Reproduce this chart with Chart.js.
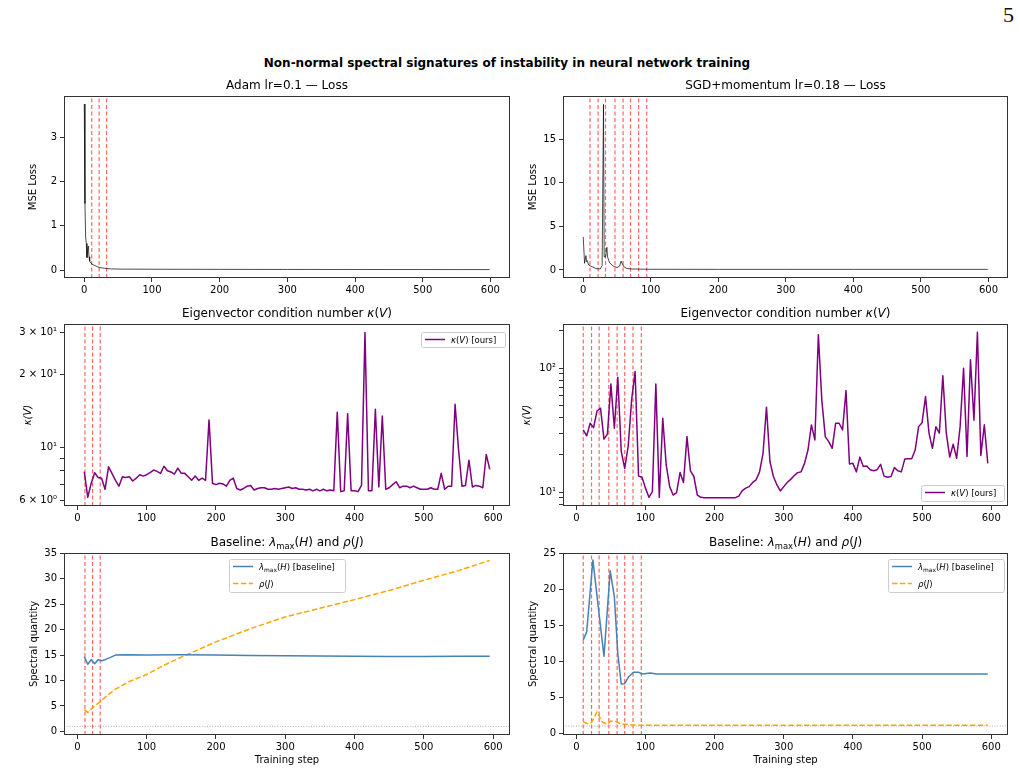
<!DOCTYPE html>
<html>
<head>
<meta charset="utf-8">
<script src="https://cdn.jsdelivr.net/npm/chart.js@4.4.0/dist/chart.umd.min.js"></script>
<style>
  body { margin: 0; background: #fff; width: 1020px; height: 772px; position: relative; overflow: hidden; }
  canvas { position: absolute; }
  #page { position: absolute; right: 6px; top: 2px; font: 22px "Liberation Serif", serif; color: #111; }
  #sup { position: absolute; left: 0; width: 1014px; top: 56px; text-align: center;
         font: bold 12px "DejaVu Sans"; color: #000; }
</style>
</head>
<body>
<div id="page">5</div>
<div id="sup">Non-normal spectral signatures of instability in neural network training</div>
<canvas id="c1" width="520" height="230" style="left:0px;top:70px"></canvas>
<canvas id="c2" width="520" height="230" style="left:500px;top:70px"></canvas>
<canvas id="c3" width="520" height="230" style="left:0px;top:298px"></canvas>
<canvas id="c4" width="520" height="230" style="left:500px;top:298px"></canvas>
<canvas id="c5" width="520" height="245" style="left:0px;top:527px"></canvas>
<canvas id="c6" width="520" height="245" style="left:500px;top:527px"></canvas>
<script>
const stepTicks = [0, 100, 200, 300, 400, 500, 600];

// steps flagged as instability events (red dashed lines)
const adamEvents = [11, 22, 33];
const sgdEvents = [10, 22, 33, 47, 59, 70, 82, 94];

// 1. loss curves
const adamLossStep = [0, 1, 2, 3, 4, 5, 6, 7, 8, 10, 13, 16, 20, 25, 30, 35, 40, 60, 100, 200, 300, 400, 500, 599];
const adamLossVal = [3.75, 1.5, 0.75, 0.6, 0.28, 0.45, 0.54, 0.3, 0.2, 0.15, 0.12, 0.1, 0.07, 0.05, 0.04, 0.03, 0.025, 0.02, 0.018, 0.015, 0.013, 0.012, 0.011, 0.01];

const sgdLossStep = [0, 2, 4, 5, 6, 8, 13, 18, 25, 28, 30, 31, 33, 35, 36, 39, 44, 50, 54, 56, 60, 64, 72, 100, 200, 300, 400, 500, 599];
const sgdLossVal = [3.8, 0.77, 1.65, 0.96, 1.07, 0.57, 0.38, 0.19, 0.11, 0.5, 19.0, 1.5, 1.5, 2.6, 1.5, 0.84, 0.46, 0.27, 0.46, 1.03, 0.38, 0.19, 0.11, 0.08, 0.07, 0.07, 0.07, 0.07, 0.07];

// 2. eigenvector condition number kappa(V), every 5 steps
const kappaStep = [10, 15, 20, 25, 30, 35, 40, 45, 50, 55, 60, 65, 70, 75, 80, 85, 90, 95, 100,
  105, 110, 115, 120, 125, 130, 135, 140, 145, 150, 155, 160, 165, 170, 175, 180, 185, 190, 195, 200,
  205, 210, 215, 220, 225, 230, 235, 240, 245, 250, 255, 260, 265, 270, 275, 280, 285, 290, 295, 300,
  305, 310, 315, 320, 325, 330, 335, 340, 345, 350, 355, 360, 365, 370, 375, 380, 385, 390, 395, 400,
  405, 410, 415, 420, 425, 430, 435, 440, 445, 450, 455, 460, 465, 470, 475, 480, 485, 490, 495, 500,
  505, 510, 515, 520, 525, 530, 535, 540, 545, 550, 555, 560, 565, 570, 575, 580, 585, 590, 595];

const kappaAdam = [7.93, 6.2, 7.1, 7.85, 7.5, 7.45, 6.7, 8.3, 7.8, 7.3, 6.9, 7.55, 7.5, 7.55, 7.25, 7.45, 7.7, 7.6, 7.7,
  7.85, 8.05, 7.95, 7.8, 8.35, 8.0, 7.9, 7.75, 8.2, 7.8, 7.8, 7.55, 7.3, 7.6, 7.3, 7.45, 7.3, 13.0, 7.1, 7.0,
  7.1, 7.05, 6.9, 7.3, 7.45, 6.75, 6.65, 6.75, 6.9, 6.95, 6.65, 6.75, 6.8, 6.8, 6.7, 6.7, 6.75, 6.7, 6.75, 6.8,
  6.85, 6.75, 6.8, 6.7, 6.7, 6.65, 6.7, 6.6, 6.7, 6.6, 6.7, 6.6, 6.65, 6.6, 14.0, 6.55, 6.6, 13.8, 6.6, 6.6,
  6.55, 6.95, 30.0, 6.6, 6.6, 14.4, 6.85, 13.5, 6.7, 6.8, 7.0, 7.2, 6.8, 6.9, 6.9, 6.8, 6.9, 6.8, 6.7, 6.7,
  6.7, 6.8, 6.7, 6.7, 7.8, 6.7, 6.9, 6.9, 15.1, 9.8, 6.9, 6.95, 8.85, 6.85, 6.95, 6.9, 6.8, 9.35, 8.1];

const kappaSgd = [31.8, 28.5, 36.0, 33.2, 45.2, 47.6, 26.8, 29.4, 74.6, 32.8, 84.5, 21.3, 15.6, 23.4, 55.5, 94.0, 13.5, 13.2, 10.8,
  9.1, 10.1, 74.6, 9.1, 39.5, 16.6, 11.1, 9.5, 9.95, 14.4, 12.0, 28.1, 14.9, 13.4, 9.5, 9.1, 9.05, 9.05, 9.05, 9.05,
  9.05, 9.05, 9.05, 9.05, 9.05, 9.05, 9.3, 10.3, 10.8, 11.1, 12.0, 12.6, 14.6, 20.6, 48.5, 17.7, 13.4, 11.5, 10.25, 11.1,
  12.0, 12.7, 13.6, 14.4, 14.6, 17.1, 21.9, 34.9, 26.4, 186, 55.5, 28.1, 25.6, 22.6, 36.0, 36.0, 31.8, 66.0, 16.9, 17.1,
  14.6, 19.2, 16.1, 16.3, 15.2, 14.9, 15.2, 16.8, 13.5, 13.2, 13.4, 15.8, 14.9, 14.6, 18.5, 18.6, 18.6, 21.9, 33.8, 36.4,
  59.0, 30.0, 22.6, 33.8, 30.0, 87.0, 30.0, 19.2, 24.4, 18.8, 33.8, 100, 19.4, 117, 38.0, 195, 19.8, 35.0, 17.1];

// 3. baseline: lambda_max(H) and rho(J)
const lamAdamStep = [10, 15, 20, 25, 30, 35, 40, 47, 55, 70, 100, 150, 200, 250, 300, 350, 400, 450, 500, 550, 595];
const lamAdamVal = [14.7, 13.2, 14.1, 13.3, 14.1, 13.9, 14.1, 14.5, 15.0, 15.05, 15.0, 15.05, 15.0, 14.9, 14.85, 14.8, 14.75, 14.7, 14.7, 14.75, 14.75];
const rhoAdamStep = [10, 15, 20, 25, 35, 45, 55, 75, 100, 125, 150, 175, 200, 250, 300, 350, 400, 450, 500, 550, 595];
const rhoAdamVal = [4.3, 3.75, 4.4, 5.0, 6.1, 7.3, 8.3, 9.8, 11.2, 13.0, 14.6, 16.1, 17.6, 20.2, 22.5, 24.2, 25.9, 27.7, 29.7, 31.6, 33.6];

const lamSgdStep = [10, 15, 24, 40, 49, 55, 60, 65, 70, 76, 83, 90, 95, 107, 116, 200, 300, 400, 500, 595];
const lamSgdVal = [13.0, 14.1, 24.1, 10.7, 22.6, 19.0, 11.1, 6.85, 6.9, 7.9, 8.5, 8.5, 8.25, 8.4, 8.25, 8.25, 8.25, 8.25, 8.25, 8.25];
const rhoSgdStep = [10, 17, 22, 30, 37, 45, 50, 58, 65, 72, 80, 100, 200, 300, 400, 500, 595];
const rhoSgdVal = [1.6, 1.3, 1.5, 3.0, 1.6, 1.25, 1.7, 1.6, 1.25, 1.25, 1.15, 1.1, 1.1, 1.1, 1.1, 1.1, 1.1];

const refLevel = 1;

const FONT = '"DejaVu Sans"';

function pts(xs, ys) {
  return xs.map((x, i) => ({ x: x, y: ys[i] }));
}

function eventLines(xs, lo, hi) {
  return xs.map((x) => ({
    data: [{ x: x, y: lo }, { x: x, y: hi }],
    borderColor: "rgba(255, 0, 0, 0.6)",
    borderWidth: 1.2,
    borderDash: [4, 2.5],
    pointRadius: 0,
  }));
}

// rich text: list of [text, style] where style is "", "i" or "sub"
function drawRich(ctx, segs, x, y, size, align) {
  const fontFor = (s) =>
    (s === "i" ? "italic " : "") + (s === "sub" ? size * 0.7 : size) + "px " + FONT;
  let total = 0;
  segs.forEach(([t, s]) => {
    ctx.font = fontFor(s);
    total += ctx.measureText(t).width;
  });
  let cx = align === "center" ? x - total / 2 : x;
  ctx.textAlign = "left";
  ctx.textBaseline = "alphabetic";
  segs.forEach(([t, s]) => {
    ctx.font = fontFor(s);
    ctx.fillText(t, cx, s === "sub" ? y + size * 0.25 : y);
    cx += ctx.measureText(t).width;
  });
}

const deco = {};

const decoPlugin = {
  id: "deco",
  afterDraw(chart) {
    const d = deco[chart.canvas.id];
    const ctx = chart.ctx;
    const a = chart.chartArea;
    ctx.save();
    ctx.strokeStyle = "#333";
    ctx.lineWidth = 1;
    ctx.strokeRect(Math.round(a.left) + 0.5, Math.round(a.top) + 0.5,
      Math.round(a.right - a.left) - 1, Math.round(a.bottom - a.top) - 1);
    ctx.fillStyle = "#000";
    drawRich(ctx, d.title, (a.left + a.right) / 2, a.top - 7, 12, "center");
    if (d.legend) {
      const L = d.legend;
      const bx = L.x - d.ox, by = L.y - d.oy;
      ctx.beginPath();
      ctx.roundRect(bx + 0.5, by + 0.5, L.w, L.h, 2);
      ctx.fillStyle = "rgba(255,255,255,0.8)";
      ctx.fill();
      ctx.strokeStyle = "#cccccc";
      ctx.stroke();
      L.items.forEach((it, i) => {
        const ly = by + 7.5 + i * 17;
        ctx.beginPath();
        ctx.setLineDash(it.dash || []);
        ctx.strokeStyle = it.color;
        ctx.lineWidth = 1.5;
        ctx.moveTo(bx + 4, ly);
        ctx.lineTo(bx + 24, ly);
        ctx.stroke();
        ctx.setLineDash([]);
        ctx.fillStyle = "#000";
        drawRich(ctx, it.segs, bx + 30, ly + 3, 8.5, "left");
      });
    }
    ctx.restore();
  },
};

function panel(id, o) {
  const tickFont = { family: FONT, size: 10 };
  const labels = o.yLabels || {};
  return new Chart(document.getElementById(id), {
    type: "line",
    data: { datasets: o.datasets },
    options: {
      responsive: false,
      animation: false,
      events: [],
      layout: { padding: { left: 0, right: o.padRight, top: 26, bottom: 0 } },
      plugins: { legend: { display: false }, tooltip: { enabled: false } },
      elements: { line: { tension: 0, borderJoinStyle: "round", borderCapStyle: "butt" } },
      scales: {
        x: {
          type: "linear",
          bounds: "data",
          min: o.xMin,
          max: o.xMax,
          afterBuildTicks: (s) => { s.ticks = stepTicks.map((v) => ({ value: v })); },
          afterFit: (s) => { s.height = o.xH; },
          grid: { drawOnChartArea: false, drawTicks: true, tickLength: 4, color: "#333" },
          border: { display: false },
          ticks: { font: tickFont, color: "#000", padding: 2, autoSkip: false, maxRotation: 0 },
          title: o.xTitle
            ? { display: true, text: o.xTitle, font: { family: FONT, size: 10 }, color: "#000", padding: { top: 0, bottom: 6 } }
            : { display: false },
        },
        y: {
          type: o.log ? "logarithmic" : "linear",
          bounds: "data",
          min: o.yMin,
          max: o.yMax,
          afterBuildTicks: (s) => { s.ticks = o.yTicks.map((v) => ({ value: v })); },
          afterFit: (s) => { s.width = o.yW; },
          grid: { drawOnChartArea: false, drawTicks: true, tickLength: 4, color: "#333" },
          border: { display: false },
          ticks: {
            font: tickFont,
            color: "#000",
            padding: 3,
            autoSkip: false,
            callback: (v) => (o.log ? (labels[v] || "") : v),
          },
          title: {
            display: true,
            text: o.yTitle,
            font: { family: FONT, size: 10, style: o.yItalic ? "italic" : "normal" },
            color: "#000",
            padding: { top: o.yTitlePad, bottom: 0 },
          },
        },
      },
    },
    plugins: [decoPlugin],
  });
}

const lossColor = "rgba(0, 0, 0, 0.7)";
const kappaColor = "#800080";
const lamColor = "#4682b4";
const rhoColor = "#ffa500";

function refLine(xMin, xMax) {
  return {
    data: [{ x: xMin, y: refLevel }, { x: xMax, y: refLevel }],
    borderColor: "rgba(128,128,128,0.8)",
    borderWidth: 0.8,
    borderDash: [1, 1.6],
    pointRadius: 0,
  };
}

const kappaTitle = [["Eigenvector condition number ", ""], ["κ", "i"], ["(", ""], ["V", "i"], [")", ""]];
const baseTitle = [["Baseline: ", ""], ["λ", "i"], ["max", "sub"], ["(", ""], ["H", "i"], [") and ", ""], ["ρ", "i"], ["(", ""], ["J", "i"], [")", ""]];
const kappaLegend = [["κ", "i"], ["(", ""], ["V", "i"], [") [ours]", ""]];
const lamLegend = [["λ", "i"], ["max", "sub"], ["(", ""], ["H", "i"], [") [baseline]", ""]];
const rhoLegend = [["ρ", "i"], ["(", ""], ["J", "i"], [")", ""]];

// top row: loss
deco.c1 = { ox: 0, oy: 70, title: [["Adam lr=0.1 — Loss", ""]] };
panel("c1", {
  padRight: 10, yW: 64, xH: 22, xMin: -29.95, xMax: 628.95,
  yMin: -0.18, yMax: 3.93, yTicks: [0, 1, 2, 3], yTitle: "MSE Loss", yTitlePad: 27,
  datasets: [
    { data: pts(adamLossStep, adamLossVal), borderColor: lossColor, borderWidth: 1, pointRadius: 0 },
    ...eventLines(adamEvents, -0.18, 3.93),
  ],
});

deco.c2 = { ox: 500, oy: 70, title: [["SGD+momentum lr=0.18 — Loss", ""]] };
panel("c2", {
  padRight: 12, yW: 63, xH: 22, xMin: -29.95, xMax: 628.95,
  yMin: -0.92, yMax: 19.97, yTicks: [0, 5, 10, 15], yTitle: "MSE Loss", yTitlePad: 27,
  datasets: [
    { data: pts(sgdLossStep, sgdLossVal), borderColor: lossColor, borderWidth: 1, pointRadius: 0 },
    ...eventLines(sgdEvents, -0.92, 19.97),
  ],
});

// middle row: kappa(V), log scale
deco.c3 = {
  ox: 0, oy: 298, title: kappaTitle,
  legend: { x: 421, y: 332, w: 84, h: 15, items: [{ color: kappaColor, segs: kappaLegend }] },
};
panel("c3", {
  padRight: 10, yW: 64, xH: 22, xMin: -19.25, xMax: 624.25, log: true,
  yMin: 5.71, yMax: 32.5, yTicks: [6, 7, 8, 9, 10, 20, 30],
  yLabels: { 6: "6 × 10⁰", 10: "10¹", 20: "2 × 10¹", 30: "3 × 10¹" },
  yTitle: "κ(V)", yItalic: true, yTitlePad: 22,
  datasets: [
    { data: pts(kappaStep, kappaAdam), borderColor: kappaColor, borderWidth: 1.5, pointRadius: 0 },
    ...eventLines(adamEvents, 5.71, 32.5),
  ],
});

deco.c4 = {
  ox: 500, oy: 298, title: kappaTitle,
  legend: { x: 921, y: 485, w: 83, h: 16, items: [{ color: kappaColor, segs: kappaLegend }] },
};
panel("c4", {
  padRight: 12, yW: 63, xH: 22, xMin: -19.25, xMax: 624.25, log: true,
  yMin: 7.75, yMax: 227, yTicks: [8, 9, 10, 20, 30, 40, 50, 60, 70, 80, 90, 100, 200],
  yLabels: { 10: "10¹", 100: "10²" },
  yTitle: "κ(V)", yItalic: true, yTitlePad: 21,
  datasets: [
    { data: pts(kappaStep, kappaSgd), borderColor: kappaColor, borderWidth: 1.5, pointRadius: 0 },
    ...eventLines(sgdEvents, 7.75, 227),
  ],
});

// bottom row: baselines
deco.c5 = {
  ox: 0, oy: 527, title: baseTitle,
  legend: {
    x: 229, y: 559, w: 116, h: 33,
    items: [{ color: lamColor, segs: lamLegend }, { color: rhoColor, dash: [5.5, 2.4], segs: rhoLegend }],
  },
};
panel("c5", {
  padRight: 10, yW: 64, xH: 37, xMin: -19.25, xMax: 624.25,
  yMin: -0.7, yMax: 35.06, yTicks: [0, 5, 10, 15, 20, 25, 30, 35],
  yTitle: "Spectral quantity", yTitlePad: 28, xTitle: "Training step",
  datasets: [
    { data: pts(lamAdamStep, lamAdamVal), borderColor: lamColor, borderWidth: 1.5, pointRadius: 0 },
    { data: pts(rhoAdamStep, rhoAdamVal), borderColor: rhoColor, borderWidth: 1.5, borderDash: [5.5, 2.4], pointRadius: 0 },
    refLine(-19.25, 624.25),
    ...eventLines(adamEvents, -0.7, 35.06),
  ],
});

deco.c6 = {
  ox: 500, oy: 527, title: baseTitle,
  legend: {
    x: 888, y: 559, w: 116, h: 33,
    items: [{ color: lamColor, segs: lamLegend }, { color: rhoColor, dash: [5.5, 2.4], segs: rhoLegend }],
  },
};
panel("c6", {
  padRight: 12, yW: 63, xH: 37, xMin: -19.25, xMax: 624.25,
  yMin: -0.24, yMax: 25.08, yTicks: [0, 5, 10, 15, 20, 25],
  yTitle: "Spectral quantity", yTitlePad: 27, xTitle: "Training step",
  datasets: [
    { data: pts(lamSgdStep, lamSgdVal), borderColor: lamColor, borderWidth: 1.5, pointRadius: 0 },
    { data: pts(rhoSgdStep, rhoSgdVal), borderColor: rhoColor, borderWidth: 1.5, borderDash: [5.5, 2.4], pointRadius: 0 },
    refLine(-19.25, 624.25),
    ...eventLines(sgdEvents, -0.24, 25.08),
  ],
});
</script>
</body>
</html>
